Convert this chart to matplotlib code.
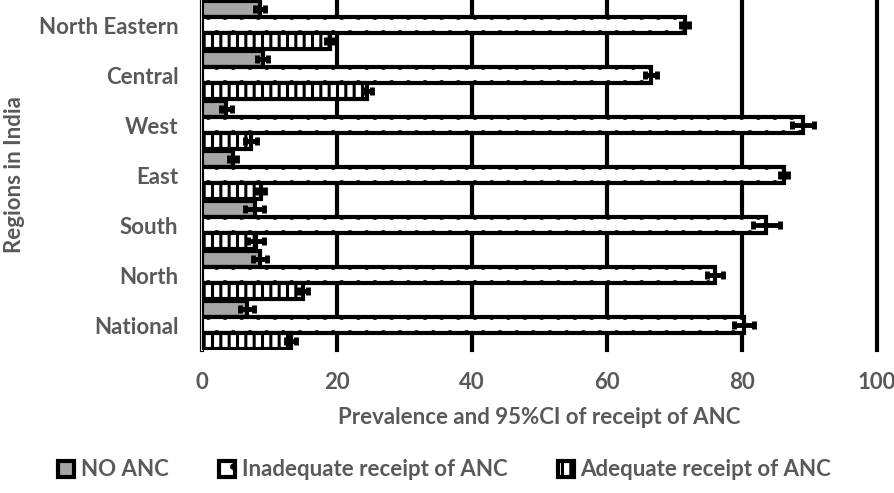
import matplotlib
matplotlib.use("Agg")
import matplotlib.pyplot as plt
import numpy as np

plt.rcParams['hatch.linewidth'] = 2.2

regions = ["North Eastern", "Central", "West", "East", "South", "North", "National"]
no_anc = [8.6, 9.0, 3.6, 4.6, 7.8, 8.6, 6.7]
no_anc_ci = [0.7, 0.8, 0.8, 0.6, 1.4, 1.0, 1.0]
inadequate = [71.5, 66.5, 89.0, 86.2, 83.6, 76.0, 80.3]
inadequate_ci = [0.6, 0.9, 1.6, 0.6, 2.0, 1.2, 1.5]
adequate = [19.0, 24.5, 7.2, 8.8, 8.0, 15.0, 13.2]
adequate_ci = [0.6, 0.7, 0.9, 0.6, 1.2, 0.7, 0.8]
series_names = ["NO ANC", "Inadequate receipt of ANC", "Adequate receipt of ANC"]

txt = "#595959"
fam = ["Lato", "DejaVu Sans"]
fs = 16

fig = plt.figure(figsize=(8.95, 4.93), dpi=100)
ax = fig.add_axes([202/895, 1-350/493, 675/895, 350/493])

y = np.arange(len(regions))
h = 0.32
specs = [
    (no_anc, no_anc_ci, "#a6a6a6", None, -h),
    (inadequate, inadequate_ci, "white", ".", 0),
    (adequate, adequate_ci, "white", "||", h),
]
handles = []
for (vals, ci, fc, hatch, off), name in zip(specs, series_names):
    b = ax.barh(y + off, vals, height=h, color=fc, edgecolor="black",
                linewidth=3, hatch=hatch, zorder=3, label=name)
    ax.errorbar(vals, y + off, xerr=ci, fmt="none", ecolor="black",
                elinewidth=3.5, capsize=3, capthick=3.5, zorder=4)
    handles.append(b)

ax.set_xlim(0, 100)
ax.set_ylim(6.5, -0.5)
ax.set_xticks([0, 20, 40, 60, 80, 100])
ax.set_yticks(y)
ax.set_yticklabels(regions)
ax.xaxis.grid(True, color="black", linewidth=3, zorder=0)
for gl in ax.get_xgridlines():
    gl.set_clip_on(False)
ax.set_axisbelow(True)
for s in ["top", "right", "bottom"]:
    ax.spines[s].set_visible(False)
ax.spines["left"].set_color("#d9d9d9")
ax.spines["left"].set_linewidth(1.5)
ax.tick_params(axis="both", length=0, labelsize=fs, labelcolor=txt)
ax.tick_params(axis="x", pad=16)
ax.tick_params(axis="y", pad=17)
for lab in ax.get_xticklabels() + ax.get_yticklabels():
    lab.set_fontweight("bold")
    lab.set_family(fam)

ax.set_xlabel("Prevalence and 95%CI of receipt of ANC", fontsize=fs,
              fontweight="bold", color=txt, family=fam, labelpad=10)
fig.text(0.004, 1-175/493, "Regions in India", rotation=90, fontsize=fs,
         fontweight="bold", color=txt, family=fam, va="center", ha="left")

leg = fig.legend(handles=handles, loc="center", bbox_to_anchor=(0.497, 1-470/493),
                 ncol=3, frameon=False, handlelength=0.7,
                 handleheight=0.7, handletextpad=0.3, columnspacing=2.3,
                 prop={"family": fam, "weight": "bold", "size": fs})
for t in leg.get_texts():
    t.set_color(txt)

fig.savefig("out.png", dpi=100)
